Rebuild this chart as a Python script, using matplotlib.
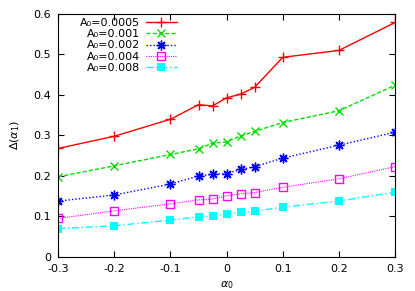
import numpy as np
import matplotlib
matplotlib.use('Agg')
import matplotlib.pyplot as plt

# alpha_0 values
alpha0 = [-0.3, -0.2, -0.1, -0.05, -0.025, 0, 0.025, 0.05, 0.1, 0.2, 0.3]

# Delta(alpha_1) for each A_0
d_0005 = [0.268, 0.298, 0.340, 0.376, 0.373, 0.393, 0.402, 0.419, 0.493, 0.510, 0.579]
d_001 = [0.198, 0.225, 0.253, 0.267, 0.281, 0.284, 0.299, 0.310, 0.332, 0.361, 0.424]
d_002 = [0.138, 0.153, 0.180, 0.200, 0.204, 0.206, 0.216, 0.223, 0.244, 0.276, 0.308]
d_004 = [0.095, 0.114, 0.131, 0.141, 0.143, 0.151, 0.156, 0.159, 0.172, 0.193, 0.223]
d_008 = [0.070, 0.077, 0.091, 0.099, 0.101, 0.106, 0.110, 0.113, 0.123, 0.138, 0.160]

labels = ['A\u2080=0.0005', 'A\u2080=0.001', 'A\u2080=0.002', 'A\u2080=0.004', 'A\u2080=0.008']

plt.rcParams['font.family'] = ['DejaVu Sans']
fig = plt.figure(figsize=(4.15, 2.91), dpi=100)
ax = fig.add_axes([0.14, 0.117, 0.812, 0.835])

ax.plot(alpha0, d_0005, color='red', ls='-', lw=1, marker='+', ms=7, mew=1, label=labels[0])
ax.plot(alpha0, d_001, color='#00dd00', ls=(0, (3, 1.5)), lw=1, marker='x', ms=6, mew=1, label=labels[1])
ax.plot(alpha0, d_002, color='blue', ls=(0, (1, 1.5)), lw=1, marker=(8, 2, 0), ms=7, mew=1, label=labels[2])
ax.plot(alpha0, d_004, color='magenta', ls=(0, (1, 1)), lw=0.8, marker='s', ms=6, mfc='none', mew=1, label=labels[3])
ax.plot(alpha0, d_008, color='cyan', ls=(0, (5, 2, 1, 2)), lw=1, marker='s', ms=5.5, mew=0, label=labels[4])

ax.set_xlim(-0.3, 0.3)
ax.set_ylim(0, 0.6)
ax.set_xticks(np.arange(-0.3, 0.31, 0.1))
ax.set_xticklabels(['-0.3', '-0.2', '-0.1', '0', '0.1', '0.2', '0.3'])
ax.set_yticks(np.arange(0, 0.61, 0.1))
ax.set_yticklabels(['0', '0.1', '0.2', '0.3', '0.4', '0.5', '0.6'])
ax.tick_params(direction='in', top=True, right=True, labelsize=8, length=4, pad=5)
for s in ax.spines.values():
    s.set_linewidth(0.8)

ax.set_xlabel(r'$\alpha_0$', fontsize=8)
ax.set_ylabel(r'$\Delta(\alpha_1)$', fontsize=8, labelpad=8)

ax.legend(loc='upper left', bbox_to_anchor=(0.045, 1.01), frameon=False, markerfirst=False,
          fontsize=8, handlelength=2.8, labelspacing=0.1, borderaxespad=0.2, handletextpad=0.5)

fig.savefig('out.png', dpi=100)
